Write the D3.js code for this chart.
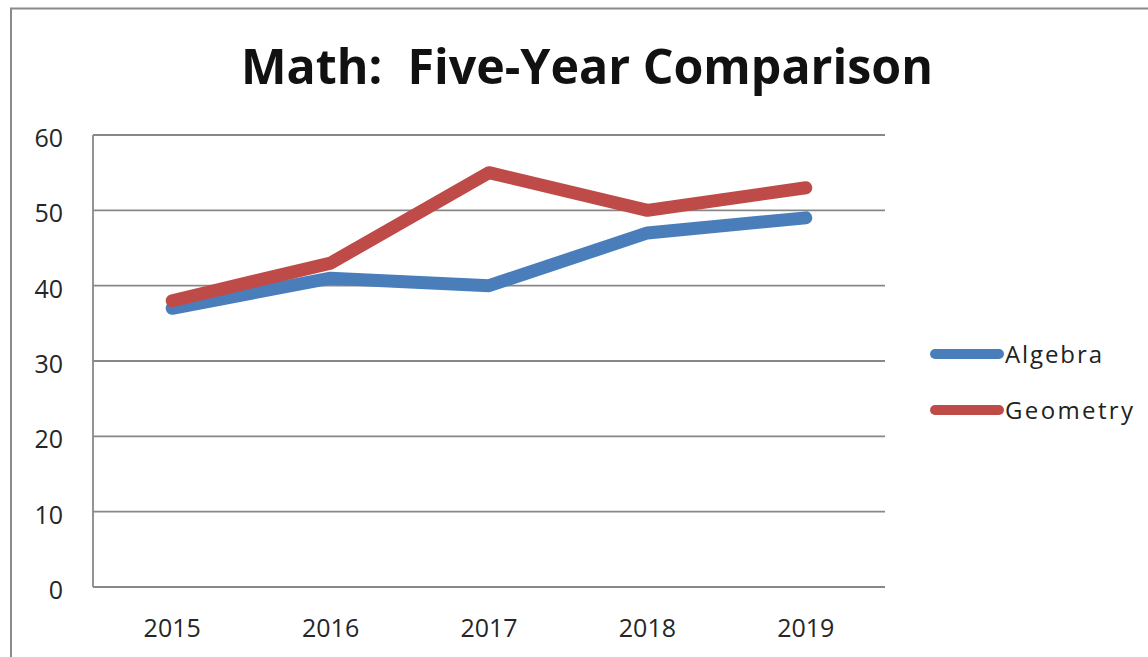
<!DOCTYPE html>
<html><head><meta charset="utf-8">
<script src="https://cdn.jsdelivr.net/npm/d3@7"></script>
<style>body{margin:0;background:#fff}svg{display:block}</style>
</head><body>
<script>
const years = ["2015","2016","2017","2018","2019"];
const algebra = [37, 41, 40, 47, 49];
const geometry = [38, 43, 55, 50, 53];
const yTicks = [0,10,20,30,40,50,60];
const seriesNames = ["Algebra","Geometry"];
const colors = ["#4a7ebb","#be4b48"];

const W=1148,H=657;
const svg=d3.select("body").append("svg").attr("width",W).attr("height",H);
svg.append("path").attr("d",`M11,${H+2} L11,8.5 L${W+2},8.5`).attr("fill","none").attr("stroke","#8a8a8a").attr("stroke-width",2);

const m={l:93,r:885,t:135,b:587};
const x=d3.scalePoint().domain(years).range([m.l,m.r]).padding(0.5);
const y=d3.scaleLinear().domain([0,60]).range([m.b,m.t]);

svg.append("g").selectAll("line").data(yTicks).join("line")
 .attr("x1",m.l).attr("x2",m.r).attr("y1",d=>y(d)).attr("y2",d=>y(d))
 .attr("stroke","#888").attr("stroke-width",1.8);
svg.append("line").attr("x1",m.l).attr("x2",m.l).attr("y1",m.t).attr("y2",m.b).attr("stroke","#888").attr("stroke-width",1.8);

const tf="Open Sans, sans-serif";
svg.append("g").selectAll("text").data(yTicks).join("text")
 .attr("x",63).attr("y",d=>y(d)+3).attr("dy","0.36em").attr("text-anchor","end")
 .attr("font-family",tf).attr("font-size",25).attr("fill","#262626")
 .text(d=>d);
svg.append("g").selectAll("text").data(years).join("text")
 .attr("x",d=>x(d)).attr("y",637).attr("text-anchor","middle")
 .attr("font-family",tf).attr("font-size",25).attr("fill","#262626")
 .text(d=>d);

const line=d3.line().x((d,i)=>x(years[i])).y(d=>y(d));
[algebra,geometry].forEach((s,i)=>{
 svg.append("path").attr("d",line(s)).attr("fill","none").attr("stroke",colors[i])
  .attr("stroke-width",13).attr("stroke-linecap","round").attr("stroke-linejoin","round");
});

svg.append("text").attr("x",587).attr("y",84).attr("text-anchor","middle")
 .style("white-space","pre")
 .attr("font-family",tf).attr("font-weight","bold").attr("font-size",48)
 .attr("fill","#111").attr("textLength",692).attr("lengthAdjust","spacingAndGlyphs")
 .text("Math:  Five-Year Comparison");

const lg=svg.append("g");
const legW=[97,128];
seriesNames.forEach((n,i)=>{
 const yy=354+i*56;
 lg.append("line").attr("x1",935).attr("x2",999).attr("y1",yy).attr("y2",yy)
  .attr("stroke",colors[i]).attr("stroke-width",10).attr("stroke-linecap","round");
 lg.append("text").attr("x",1005).attr("y",yy).attr("dy","0.36em")
  .attr("font-family",tf).attr("font-size",24).attr("fill","#222")
  .attr("textLength",legW[i]).attr("lengthAdjust","spacing").text(n);
});
</script>
</body></html>
